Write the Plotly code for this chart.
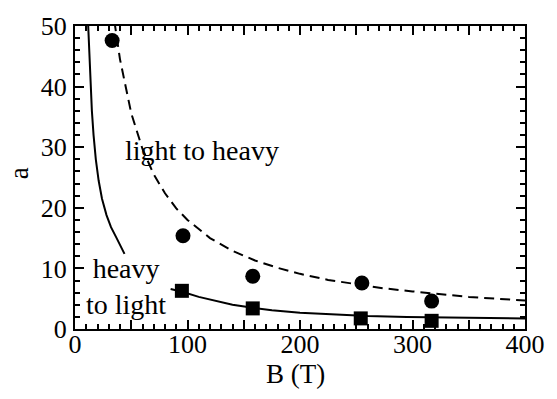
import plotly.graph_objects as go

# Measured points
circle_B = [33, 96, 158, 255, 317]
circle_a = [47.6, 15.4, 8.7, 7.6, 4.6]
square_B = [95, 158, 254, 317]
square_a = [6.3, 3.4, 1.75, 1.35]

# Dashed curve (light to heavy)
dash_B = [35, 40, 50, 60, 70, 80, 90, 100, 120, 140, 160, 180, 200, 225, 250, 275, 300, 325, 350, 375, 400]
dash_a = [50.8, 44.5, 35.6, 29.7, 25.5, 22.4, 19.9, 18.0, 15.0, 12.9, 11.3, 10.1, 9.1, 8.1, 7.4, 6.7, 6.2, 5.7, 5.3, 5.0, 4.7]

# Solid curve (heavy to light), upper branch
solid1_B = [11.5, 12.5, 13.5, 15, 16.5, 18.5, 21, 24, 28, 32, 37, 41, 44]
solid1_a = [51, 46, 42, 36, 32, 28, 24.5, 21.5, 18.8, 16.8, 15.0, 13.6, 12.4]

# Solid curve, lower branch
solid2_B = [85, 96, 110, 125, 140, 158, 175, 200, 230, 260, 295, 330, 365, 400]
solid2_a = [6.6, 6.1, 5.3, 4.6, 4.0, 3.5, 3.1, 2.7, 2.4, 2.15, 2.0, 1.9, 1.8, 1.75]

x_tickvals = [0, 50, 100, 150, 200, 250, 300, 350, 400]
x_ticktext = ["0", "", "100", "", "200", "", "300", "", "400"]
y_tickvals = [0, 10, 20, 30, 40, 50]
y_ticktext = ["0", "10", "20", "30", "40", "50"]

FONT = "Liberation Serif"

fig = go.Figure()
fig.add_trace(go.Scatter(x=dash_B, y=dash_a, mode="lines",
                         line=dict(color="black", width=2, dash="10px,6px"), showlegend=False))
fig.add_trace(go.Scatter(x=solid1_B, y=solid1_a, mode="lines",
                         line=dict(color="black", width=2), showlegend=False))
fig.add_trace(go.Scatter(x=solid2_B, y=solid2_a, mode="lines",
                         line=dict(color="black", width=2), showlegend=False))
fig.add_trace(go.Scatter(x=circle_B, y=circle_a, mode="markers", cliponaxis=False,
                         marker=dict(symbol="circle", size=15, color="black"), showlegend=False))
fig.add_trace(go.Scatter(x=square_B, y=square_a, mode="markers", cliponaxis=False,
                         marker=dict(symbol="square", size=14, color="black"), showlegend=False))

axis_common = dict(showgrid=False, zeroline=False, showline=True, linecolor="black", linewidth=2,
                   mirror="ticks", ticks="inside", ticklen=9, tickwidth=1.5, tickcolor="black",
                   tickfont=dict(family=FONT, size=26, color="black"))

fig.update_xaxes(range=[0, 400], tickmode="array", tickvals=x_tickvals, ticktext=x_ticktext,
                 minor=dict(dtick=10, ticks="inside", ticklen=5, tickwidth=1.5, tickcolor="black"),
                 ticklabelstandoff=-9, **axis_common)
fig.update_yaxes(range=[0, 50], tickmode="array", tickvals=y_tickvals, ticktext=y_ticktext,
                 minor=dict(dtick=2, ticks="inside", ticklen=5, tickwidth=1.5, tickcolor="black"),
                 ticklabelstandoff=1, **axis_common)

fig.add_annotation(x=113, y=29.4, xref="x", yref="y", text="light to heavy", showarrow=False,
                   xanchor="center", yanchor="middle",
                   font=dict(family=FONT, size=28, color="black"))
fig.add_annotation(x=45.5, y=7.0, xref="x", yref="y", text="heavy<br>to light", showarrow=False,
                   align="center", xanchor="center", yanchor="middle",
                   font=dict(family=FONT, size=28, color="black"))
fig.add_annotation(x=18, y=172, xref="paper", yref="paper", text="a", showarrow=False,
                   textangle=-90, xanchor="center", yanchor="middle",
                   font=dict(family=FONT, size=27, color="black"))
fig.add_annotation(x=298, y=374, xref="paper", yref="paper", text="B (T)", showarrow=False,
                   xanchor="center", yanchor="middle",
                   font=dict(family=FONT, size=27, color="black"))

fig.update_layout(width=557, height=399, margin=dict(l=75, r=27, t=23, b=70),
                  plot_bgcolor="white", paper_bgcolor="white")

# convert pixel positions of titles into paper coordinates
W, H = 557 - 75 - 27, 399 - 23 - 70
for ann in fig.layout.annotations:
    if ann.xref == "paper":
        ann.x = (ann.x - 75) / W
        ann.y = 1 - (ann.y - 23) / H

fig.write_html("out.html", config={"displayModeBar": False},
               post_script="document.body.style.margin='0';")
